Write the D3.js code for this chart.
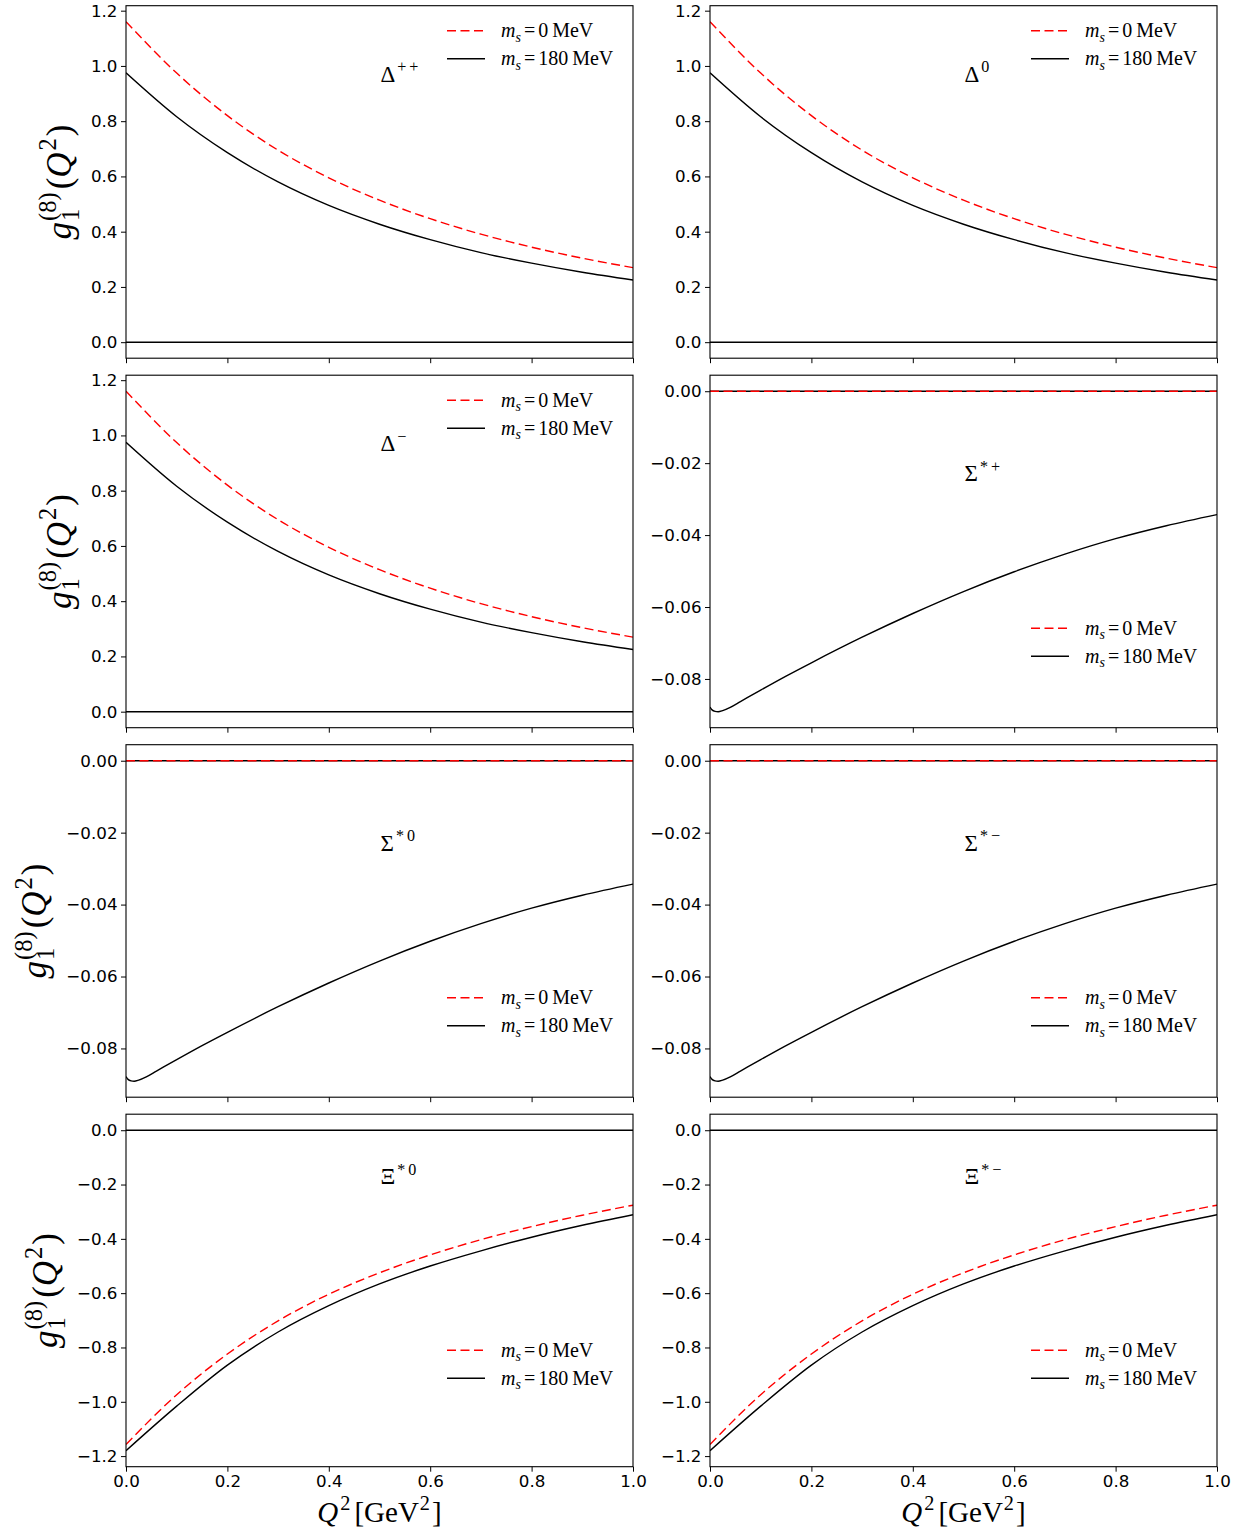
<!DOCTYPE html>
<html>
<head>
<meta charset="utf-8">
<script src="https://cdn.jsdelivr.net/npm/d3@7"></script>
<style>
body { margin: 0; background: #fff; }
.tick text { font-family: "DejaVu Sans", sans-serif; font-size: 16.7px; fill: #000; }
.math text { font-family: "Liberation Serif", "Times New Roman", serif; fill: #000; }
</style>
</head>
<body>
<div class="chart"></div>
<script>
// Q^2 grid (GeV^2) the curves were read on
var q2 = [0, 0.1, 0.2, 0.3, 0.4, 0.5, 0.6, 0.7, 0.8, 0.9, 1.0];
var deltaMs0 = [1.160, 0.974, 0.820, 0.695, 0.595, 0.514, 0.447, 0.391, 0.344, 0.304, 0.270];
var deltaMs180 = [0.975, 0.816, 0.686, 0.580, 0.495, 0.427, 0.371, 0.324, 0.286, 0.253, 0.225];
var xiMs0 = [-1.157, -0.974, -0.824, -0.702, -0.604, -0.525, -0.459, -0.403, -0.355, -0.313, -0.276];
var xiMs180 = [-1.180, -1.016, -0.865, -0.743, -0.646, -0.566, -0.500, -0.444, -0.394, -0.350, -0.311];

// sigma curves have a small dip near Q^2 = 0
var sigmaQ2 = [0, 0.004, 0.01, 0.016, 0.025, 0.04, 0.06, 0.1, 0.15, 0.2, 0.3, 0.4, 0.5, 0.6, 0.7, 0.8, 0.9, 1.0];
var sigmaMs180 = [-0.0878, -0.0886, -0.0890, -0.0891, -0.0888, -0.0879, -0.0863, -0.0831, -0.0792, -0.0755,
    -0.0684, -0.0618, -0.0557, -0.0502, -0.0453, -0.0410, -0.0374, -0.0343];
var sigmaZeroQ2 = [0, 1.0];
var sigmaMs0 = [0.0, 0.0];

var xTicks = [0, 0.2, 0.4, 0.6, 0.8, 1.0];
var deltaTicks = [0, 0.2, 0.4, 0.6, 0.8, 1.0, 1.2];
var sigmaTicks = [0, -0.02, -0.04, -0.06, -0.08];
var xiTicks = [0, -0.2, -0.4, -0.6, -0.8, -1.0, -1.2];

var particles = ['Δ', 'Δ', 'Δ', 'Σ', 'Σ', 'Σ', 'Ξ', 'Ξ'];
var charges = ['++', '0', '−', '*+', '*0', '*−', '*0', '*−'];
var legendLabels = ['0', '180'];

var width = 1245, height = 1533;
var colLeft = [126, 710], rowTop = [5.7, 375.2, 744.7, 1114.2];
var plotW = 507, plotH = 352.5;

var groups = {
    delta: {x0: q2, y0: deltaMs0, x1: q2, y1: deltaMs180, ticks: deltaTicks, fmt: '.1f', lab: 76, leg: 25},
    sigma: {x0: sigmaZeroQ2, y0: sigmaMs0, x1: sigmaQ2, y1: sigmaMs180, ticks: sigmaTicks, fmt: '.2f', lab: 106, leg: 253},
    xi: {x0: q2, y0: xiMs0, x1: q2, y1: xiMs180, ticks: xiTicks, fmt: '.1f', lab: 70, leg: 236}
};
var kinds = ['delta', 'delta', 'delta', 'sigma', 'sigma', 'sigma', 'xi', 'xi'];

var svg = d3.select('.chart')
    .append('svg')
    .attr('width', width)
    .attr('height', height)
    .style('display', 'block');

svg.append('rect').attr('width', width).attr('height', height).attr('fill', '#fff');

// lay out a small piece of TeX-like text, returns its width
function drawMath(g, parts, size) {
    var x = 0, hold = 0;
    parts.forEach(function (p) {
        var fs = p.s ? size * 0.7 : size;
        var y = p.s === 'sub' ? size * 0.22 : (p.s === 'sup' ? -size * 0.42 : 0);
        var t = g.append('text')
            .attr('x', x + (p.pre || 0))
            .attr('y', y)
            .attr('font-size', fs)
            .attr('font-style', p.i ? 'italic' : null)
            .attr('letter-spacing', p.ls || null)
            .text(p.t);
        var w = (p.pre || 0) + t.node().getComputedTextLength() + (p.post || 0);
        if (p.stack) {
            hold = Math.max(hold, w);
        } else {
            x += Math.max(hold, w);
            hold = 0;
        }
    });
    return x;
}

var x = d3.scaleLinear().domain([0, 1]).range([0, plotW]);

svg.append('defs').append('clipPath').attr('id', 'clip')
    .append('rect').attr('width', plotW).attr('height', plotH);

var line = d3.line()
    .x(function (d) { return x(d[0]); })
    .curve(d3.curveMonotoneX);

particles.forEach(function (name, i) {
    var row = Math.floor(i / 2), col = i % 2;
    var k = groups[kinds[i]];

    var all = k.y0.concat(k.y1, [0]);
    var lo = d3.min(all), hi = d3.max(all), pad = (hi - lo) * 0.05;
    var y = d3.scaleLinear().domain([lo - pad, hi + pad]).range([plotH, 0]);
    line.y(function (d) { return y(d[1]); });

    var g = svg.append('g')
        .attr('transform', 'translate(' + colLeft[col] + ',' + rowTop[row] + ')');

    var plot = g.append('g').attr('clip-path', 'url(#clip)');

    plot.append('line')
        .attr('x1', 0).attr('x2', plotW)
        .attr('y1', y(0)).attr('y2', y(0))
        .attr('stroke', '#000')
        .attr('stroke-width', 1.5);

    plot.append('path')
        .datum(d3.zip(k.x0, k.y0))
        .attr('d', line)
        .attr('fill', 'none')
        .attr('stroke', 'red')
        .attr('stroke-width', 1.4)
        .attr('stroke-dasharray', '9,4.5');

    plot.append('path')
        .datum(d3.zip(k.x1, k.y1))
        .attr('d', line)
        .attr('fill', 'none')
        .attr('stroke', '#000')
        .attr('stroke-width', 1.4);

    var yAxis = g.append('g')
        .call(d3.axisLeft(y).tickValues(k.ticks).tickFormat(d3.format(k.fmt))
            .tickSize(5).tickPadding(3.5).tickSizeOuter(0));
    yAxis.select('.domain').remove();

    var xAxis = g.append('g')
        .attr('transform', 'translate(0,' + plotH + ')')
        .call(d3.axisBottom(x).tickValues(xTicks).tickFormat(row === 3 ? d3.format('.1f') : '')
            .tickSize(5).tickPadding(3.5).tickSizeOuter(0));
    xAxis.select('.domain').remove();

    g.append('rect')
        .attr('width', plotW)
        .attr('height', plotH)
        .attr('fill', 'none')
        .attr('stroke', '#000')
        .attr('stroke-width', 1.1);

    // particle name
    var lab = g.append('g').attr('class', 'math')
        .attr('transform', 'translate(' + (x(0.5) + 1) + ',' + k.lab + ')');
    drawMath(lab, [{t: name}, {t: charges[i], s: 'sup', pre: 2, ls: 3}], 23);

    // legend
    var leg = g.append('g').attr('class', 'math')
        .attr('transform', 'translate(321,' + k.leg + ')');
    legendLabels.forEach(function (v, j) {
        var ly = j * 28;
        leg.append('line')
            .attr('x1', 0).attr('x2', 38)
            .attr('y1', ly).attr('y2', ly)
            .attr('stroke', j === 0 ? 'red' : '#000')
            .attr('stroke-width', 1.4)
            .attr('stroke-dasharray', j === 0 ? '9,4.5' : null);
        var t = leg.append('g').attr('transform', 'translate(54,' + (ly + 6.5) + ')');
        drawMath(t, [{t: 'm', i: 1}, {t: 's', i: 1, s: 'sub'}, {t: '=', pre: 3, post: 3},
            {t: v}, {t: 'MeV', pre: 4}], 20);
    });

    if (col === 0) {
        var bb = yAxis.node().getBBox();
        var yl = g.append('g').attr('class', 'math')
            .attr('transform', 'translate(' + (bb.x - 20) + ',' + (plotH / 2) + ') rotate(-90)');
        var inner = yl.append('g');
        var w = drawMath(inner, [{t: 'g', i: 1}, {t: '1', s: 'sub', stack: 1, pre: 1},
            {t: '(8)', s: 'sup', pre: 1}, {t: '(', pre: 3}, {t: 'Q', i: 1},
            {t: '2', s: 'sup', pre: 2}, {t: ')', pre: 2}], 35);
        inner.attr('transform', 'translate(' + (-w / 2) + ',0)');
    }

    if (row === 3) {
        var xl = g.append('g').attr('class', 'math')
            .attr('transform', 'translate(' + (plotW / 2) + ',' + (plotH + 55) + ')');
        var xin = xl.append('g');
        var xw = drawMath(xin, [{t: 'Q', i: 1}, {t: '2', s: 'sup', pre: 2}, {t: '[', pre: 4},
            {t: 'GeV'}, {t: '2', s: 'sup', pre: 1}, {t: ']', pre: 2}], 29);
        xin.attr('transform', 'translate(' + (-xw / 2) + ',0)');
    }
});
</script>
</body>
</html>
